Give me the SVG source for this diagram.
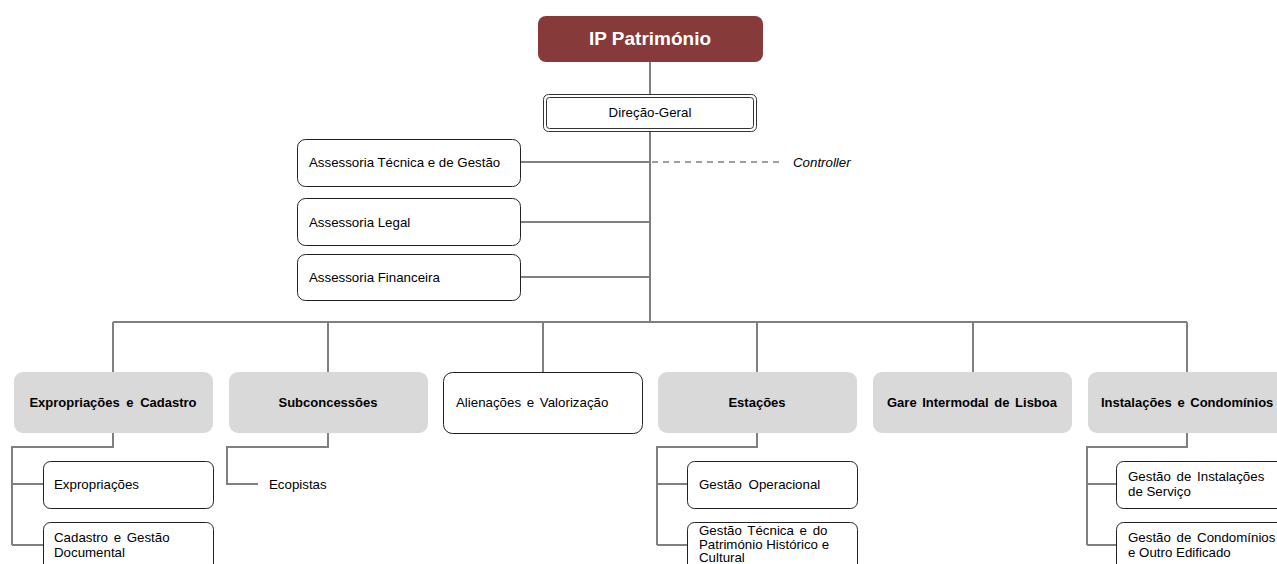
<svg xmlns="http://www.w3.org/2000/svg" width="1277" height="564" viewBox="0 0 1277 564">
<style>
text{font-family:"Liberation Sans",Arial,sans-serif;font-size:13.3px;fill:#000}
.b{font-weight:bold;font-size:13px}
.c{text-anchor:middle}
.w{fill:#fff;stroke:#222;stroke-width:1}
.g{fill:#D9D9D9;stroke:none}
.ln{fill:none;stroke:#808080;stroke-width:2}
</style>
<rect width="1277" height="564" fill="#fff"/>
<g id="connectors">
<path class="ln" d="M650 62V322M520 162H650M520 222H650M520 277H650M113 322H1187M113 322V372M328 322V372M543 322V372M757 322V372M973 322V372M1187 322V372"/>
<path d="M652 162H782" stroke="#808080" stroke-width="1.5" stroke-dasharray="6,5" fill="none"/>
<path class="ln" d="M113 433V447H12V545M12 484H43M12 545H43"/>
<path class="ln" d="M328 433V447H227V484H258"/>
<path class="ln" d="M757 433V447H657V545M657 484H687M657 545H687"/>
<path class="ln" d="M1187 433V447H1087V545M1087 484H1116M1087 545H1116"/>
</g>
<g id="ip"><rect x="538" y="16" width="225" height="46" rx="8" fill="#863B3A"/><text x="650" y="45" class="c" style="font-size:19px;font-weight:bold;fill:#fff">IP Património</text></g>
<g id="dg"><rect x="543.5" y="94.5" width="213" height="37" rx="5" fill="#fff" stroke="#333"/><rect x="546.5" y="97.5" width="207" height="31" rx="3" fill="none" stroke="#333"/><text x="650" y="117" class="c">Direção-Geral</text></g>
<g id="controller"><text x="793" y="167" style="font-style:italic">Controller</text></g>
<g id="atg"><rect class="w" x="297.5" y="139.5" width="223" height="47" rx="8"/><text x="309" y="167">Assessoria Técnica e de Gestão</text></g>
<g id="al"><rect class="w" x="297.5" y="198.5" width="223" height="47" rx="8"/><text x="309" y="227">Assessoria Legal</text></g>
<g id="af"><rect class="w" x="297.5" y="254.5" width="223" height="46" rx="8"/><text x="309" y="282">Assessoria Financeira</text></g>
<g id="ec"><rect class="g" x="14" y="372" width="199" height="61" rx="9"/><text x="113" y="407" class="b c" style="word-spacing:3px">Expropriações e Cadastro</text></g>
<g id="sub"><rect class="g" x="229" y="372" width="199" height="61" rx="9"/><text x="328" y="407" class="b c">Subconcessões</text></g>
<g id="av"><rect class="w" x="443.5" y="372.5" width="199" height="61" rx="9"/><text x="456" y="407" style="word-spacing:2px">Alienações e Valorização</text></g>
<g id="est"><rect class="g" x="658" y="372" width="199" height="61" rx="9"/><text x="757" y="407" class="b c">Estações</text></g>
<g id="gil"><rect class="g" x="873" y="372" width="199" height="61" rx="9"/><text x="972" y="407" class="b c" style="word-spacing:2px">Gare Intermodal de Lisboa</text></g>
<g id="ic"><rect class="g" x="1088" y="372" width="199" height="61" rx="9"/><text x="1101" y="407" class="b" style="word-spacing:2px">Instalações e Condomínios</text></g>
<g id="exp"><rect class="w" x="43.5" y="461.5" width="170" height="47" rx="7"/><text x="54" y="489">Expropriações</text></g>
<g id="cgd"><rect class="w" x="43.5" y="522.5" width="170" height="50" rx="7"/><text x="54" y="542" style="word-spacing:2px">Cadastro e Gestão</text><text x="54" y="557">Documental</text></g>
<g id="eco"><text x="269" y="489">Ecopistas</text></g>
<g id="go"><rect class="w" x="687.5" y="461.5" width="170" height="47" rx="7"/><text x="699" y="489" style="word-spacing:3px">Gestão Operacional</text></g>
<g id="gt"><rect class="w" x="687.5" y="522.5" width="170" height="50" rx="7"/><text x="699" y="535" style="word-spacing:2px">Gestão Técnica e do</text><text x="699" y="549">Património Histórico e</text><text x="699" y="562">Cultural</text></g>
<g id="gis"><rect class="w" x="1116.5" y="461.5" width="170" height="47" rx="7"/><text x="1128" y="481" style="word-spacing:2px">Gestão de Instalações</text><text x="1128" y="496">de Serviço</text></g>
<g id="gce"><rect class="w" x="1116.5" y="522.5" width="170" height="50" rx="7"/><text x="1128" y="542" style="word-spacing:2px">Gestão de Condomínios</text><text x="1128" y="557">e Outro Edificado</text></g>
</svg>
